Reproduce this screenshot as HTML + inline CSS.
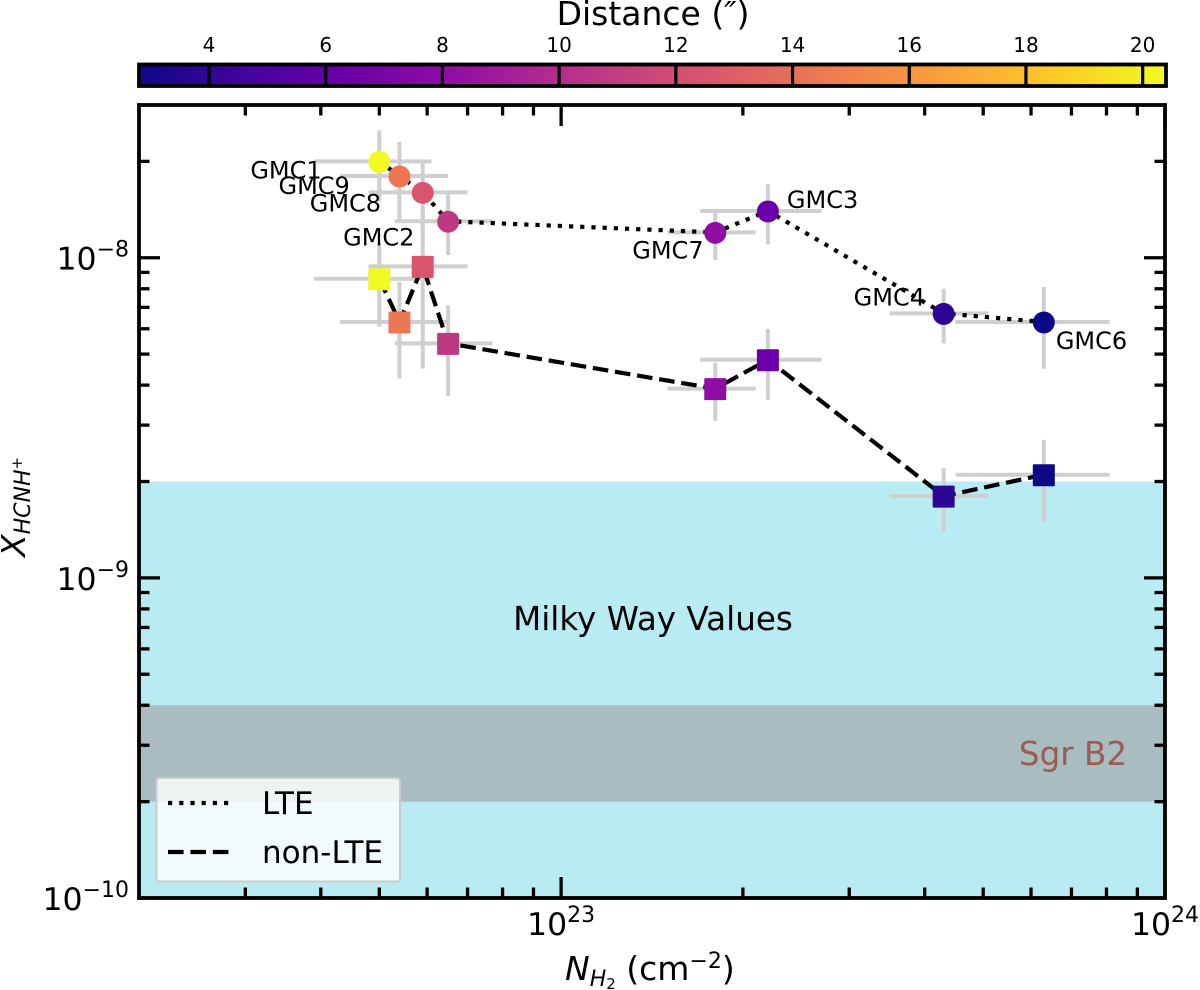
<!DOCTYPE html>
<html lang="en">
<head>
<meta charset="utf-8">
<title>HCNH+ abundance vs H2 column density</title>
<style>
html,body{margin:0;padding:0;background:#fff;width:1200px;height:990px;overflow:hidden}
svg{display:block}
text{font-family:"DejaVu Sans","Liberation Sans",sans-serif;fill:#000}
.it{font-style:italic}
</style>
</head>
<body>
<svg id="chart" xmlns="http://www.w3.org/2000/svg" width="1200" height="990" viewBox="0 0 1200 990">
  <defs>
    <linearGradient id="plasma-gradient" x1="0" x2="1" y1="0" y2="0"></linearGradient>
    <clipPath id="plot-clip"><rect x="139" y="105" width="1026" height="793"></rect></clipPath>
  </defs>
  <g id="bands" clip-path="url(#plot-clip)"></g>
  <g id="errors" clip-path="url(#plot-clip)"></g>
  <g id="labels"></g>
  <g id="lines" clip-path="url(#plot-clip)"></g>
  <g id="markers"></g>
  <text x="653" y="630" font-size="32.6" text-anchor="middle">Milky Way Values</text>
  <text x="1073" y="765" font-size="32.6" text-anchor="middle" style="fill:#9c5a52">Sgr B2</text>
  <g id="ticks"></g>
  <g>
    <rect x="156.5" y="778" width="243.5" height="103.5" rx="3" fill="#fff" fill-opacity="0.8" stroke="#cccccc" stroke-width="2"></rect>
    <line x1="168" y1="803" x2="235" y2="803" stroke="#000" stroke-width="4.2" stroke-dasharray="4.2 7"></line>
    <text x="262" y="814" font-size="31">LTE</text>
    <line x1="168" y1="852" x2="235" y2="852" stroke="#000" stroke-width="4.2" stroke-dasharray="15.6 6.8"></line>
    <text x="262" y="863" font-size="31">non-LTE</text>
  </g>
  <rect x="139" y="105" width="1026" height="793" fill="none" stroke="#000" stroke-width="3.8"></rect>
  <text x="565" y="980" font-size="33"><tspan class="it">N</tspan><tspan class="it" font-size="22" dy="6">H</tspan><tspan font-size="15" dy="3">2</tspan><tspan dy="-9"> (cm</tspan><tspan font-size="22" dy="-12">−2</tspan><tspan dy="12">)</tspan></text>
  <text transform="translate(25,557) rotate(-90)" font-size="33"><tspan class="it">X</tspan><tspan class="it" font-size="22" dy="5">HCNH</tspan><tspan font-size="15" dy="-8">+</tspan></text>
  <g>
    <rect x="139" y="64.5" width="1027" height="21.5" fill="url(#plasma-gradient)"></rect>
    <g id="cbar-ticks"></g>
    <rect x="139" y="64.5" width="1027" height="21.5" fill="none" stroke="#000" stroke-width="3.8"></rect>
  </g>
  <text x="653" y="25" font-size="33" text-anchor="middle">Distance (<tspan class="it">″</tspan>)</text>
</svg>
<script>
const cloudNames = ['GMC1', 'GMC9', 'GMC8', 'GMC2', 'GMC7', 'GMC3', 'GMC4', 'GMC6'];
const columnDensity = [5.0e22, 5.4e22, 5.9e22, 6.5e22, 1.8e23, 2.2e23, 4.3e23, 6.3e23];
const columnDensityErr = [1.1e22, 1.1e22, 1.1e22, 1.2e22, 0.3e23, 0.5e23, 0.8e23, 1.8e23];
const abundanceLTE = [2.0e-8, 1.8e-8, 1.6e-8, 1.3e-8, 1.2e-8, 1.4e-8, 6.7e-9, 6.3e-9];
const abundanceLTEErr = [5.0e-9, 5.0e-9, 3.8e-9, 2.8e-9, 2.15e-9, 3.0e-9, 1.3e-9, 1.8e-9];
const abundanceNonLTE = [8.6e-9, 6.3e-9, 9.4e-9, 5.4e-9, 3.9e-9, 4.8e-9, 1.8e-9, 2.1e-9];
const abundanceNonLTEErr = [2.5e-9, 2.1e-9, 4.9e-9, 1.7e-9, 0.8e-9, 1.2e-9, 0.4e-9, 0.6e-9];
const distances = [20.4, 14.4, 12.5, 10.7, 8.1, 6.3, 3.9, 2.8];
const colorbarTicks = [4, 6, 8, 10, 12, 14, 16, 18, 20];
const xMajorTicks = [1e23, 1e24];
const xTickExponents = ['23', '24'];
const yMajorTicks = [1e-10, 1e-9, 1e-8];
const yTickExponents = ['−10', '−9', '−8'];
const milkyWayBand = [1e-10, 2e-9];
const sgrB2Band = [2e-10, 4e-10];
const plasmaStops = ['#0d0887', '#41049d', '#6a00a8', '#8f0da4', '#b12a90', '#cc4778', '#e16462', '#f2844b', '#fca636', '#fcce25', '#f0f921'];

const SVGNS = 'http://www.w3.org/2000/svg';
const plot = { left: 139, right: 1165, top: 105, bottom: 898 };
const xDomain = [2e22, 1e24];
const yDomain = [1e-10, 3e-8];
const cbarDomain = [2.8, 20.4];

function sx(v) {
  return plot.left + (Math.log10(v) - Math.log10(xDomain[0])) / (Math.log10(xDomain[1]) - Math.log10(xDomain[0])) * (plot.right - plot.left);
}
function sy(v) {
  return plot.bottom - (Math.log10(v) - Math.log10(yDomain[0])) / (Math.log10(yDomain[1]) - Math.log10(yDomain[0])) * (plot.bottom - plot.top);
}
function scbar(v) {
  return 139 + (v - cbarDomain[0]) / (cbarDomain[1] - cbarDomain[0]) * 1027;
}
function hexToRgb(h) {
  return [parseInt(h.slice(1, 3), 16), parseInt(h.slice(3, 5), 16), parseInt(h.slice(5, 7), 16)];
}
function plasma(t) {
  const c = Math.max(0, Math.min(1, t)) * (plasmaStops.length - 1);
  const i = Math.min(Math.floor(c), plasmaStops.length - 2);
  const a = hexToRgb(plasmaStops[i]);
  const b = hexToRgb(plasmaStops[i + 1]);
  const f = c - i;
  return 'rgb(' + a.map((v, k) => Math.round(v + (b[k] - v) * f)).join(',') + ')';
}
function colorFor(d) {
  return plasma((d - cbarDomain[0]) / (cbarDomain[1] - cbarDomain[0]));
}
function mk(parent, tag, attrs) {
  const el = document.createElementNS(SVGNS, tag);
  for (const k in attrs) el.setAttribute(k, attrs[k]);
  parent.appendChild(el);
  return el;
}

const g = id => document.getElementById(id);

/* colorbar gradient */
plasmaStops.forEach((c, i) => {
  mk(g('plasma-gradient'), 'stop', { offset: (i / (plasmaStops.length - 1) * 100) + '%', 'stop-color': c });
});

/* colorbar ticks */
colorbarTicks.forEach(v => {
  const x = scbar(v);
  const edge = mk(g('cbar-ticks'), 'line', { x1: x, x2: x, y1: 64.5, y2: 86, stroke: '#000', 'stroke-width': 3.2 });
  
  
  const t = mk(g('cbar-ticks'), 'text', { x: x, y: 52, 'font-size': 20, 'text-anchor': 'middle' });
  t.textContent = String(v);
  
  
});

/* bands */
const mwRect = mk(g('bands'), 'rect', { x: plot.left, width: plot.right - plot.left, y: sy(milkyWayBand[1]), height: sy(milkyWayBand[0]) - sy(milkyWayBand[1]), fill: '#b9ebf2' });


const sgrRect = mk(g('bands'), 'rect', { x: plot.left, width: plot.right - plot.left, y: sy(sgrB2Band[1]), height: sy(sgrB2Band[0]) - sy(sgrB2Band[1]), fill: '#a9bcbf' });



/* error bars */
function drawErrors(values, errors, seriesName) {
  values.forEach((v, i) => {
    const cx = sx(columnDensity[i]);
    const cy = sy(v);
    const h = mk(g('errors'), 'line', { x1: sx(columnDensity[i] - columnDensityErr[i]), x2: sx(columnDensity[i] + columnDensityErr[i]), y1: cy, y2: cy, stroke: '#cfcfcf', 'stroke-width': 4 });
    
    
    const w = mk(g('errors'), 'line', { x1: cx, x2: cx, y1: sy(v - errors[i]), y2: sy(v + errors[i]), stroke: '#cfcfcf', 'stroke-width': 4 });
    
    
  });
}
drawErrors(abundanceLTE, abundanceLTEErr, 'lte');
drawErrors(abundanceNonLTE, abundanceNonLTEErr, 'non-lte');

/* cloud labels, offset from their LTE points */
function drawLabels() {
  const labelOffset = [[-129, 17], [-121, 18], [-113, 19], [-105, 24], [-83, 26], [19, -3], [-90, -8], [12, 27]];
  cloudNames.forEach((name, i) => {
    const t = mk(g('labels'), 'text', { x: sx(columnDensity[i]) + labelOffset[i][0], y: sy(abundanceLTE[i]) + labelOffset[i][1], 'font-size': 24 });
    t.textContent = name;
    
    
  });
}
drawLabels();

/* series lines */
function pathPoints(values) {
  return values.map((v, i) => sx(columnDensity[i]).toFixed(2) + ',' + sy(v).toFixed(2)).join(' ');
}
const lteLine = mk(g('lines'), 'polyline', { points: pathPoints(abundanceLTE), fill: 'none', stroke: '#000', 'stroke-width': 4.2, 'stroke-dasharray': '4.2 7' });


const nonLteLine = mk(g('lines'), 'polyline', { points: pathPoints(abundanceNonLTE), fill: 'none', stroke: '#000', 'stroke-width': 4.2, 'stroke-dasharray': '15.6 6.8' });



/* markers */
columnDensity.forEach((x, i) => {
  const c = colorFor(distances[i]);
  const circle = mk(g('markers'), 'circle', { cx: sx(x), cy: sy(abundanceLTE[i]) + 0.5, r: 11, fill: c });
  
  
  const square = mk(g('markers'), 'rect', { x: sx(x) - 11, y: sy(abundanceNonLTE[i]) - 10.5, width: 22, height: 22, rx: 1, fill: c });
  
  
});

/* axis ticks */
function tickLine(x1, y1, x2, y2, name) {
  const l = mk(g('ticks'), 'line', { x1: x1, y1: y1, x2: x2, y2: y2, stroke: '#000', 'stroke-width': 3.3 });
  
  
}
function powerLabel(x, y, exponent, anchor, name) {
  const t = mk(g('ticks'), 'text', { x: x, y: y, 'font-size': 31.5, 'text-anchor': anchor });
  const a = mk(t, 'tspan', {});
  a.textContent = '10';
  const b = mk(t, 'tspan', { 'font-size': 22, dy: -13 });
  b.textContent = exponent;
  
  
}
for (let e = 22; e <= 23; e++) {
  for (let m = 1; m <= 9; m++) {
    const v = m * Math.pow(10, e);
    if (m === 1 || v <= xDomain[0]) continue;
    const x = sx(v);
    tickLine(x, plot.bottom, x, plot.bottom - 10.5, 'x-minor-tick-bottom');
    tickLine(x, plot.top, x, plot.top + 10.5, 'x-minor-tick-top');
  }
}
xMajorTicks.forEach((v, i) => {
  const x = sx(v);
  tickLine(x, plot.bottom, x, plot.bottom - 21, 'x-major-tick-bottom');
  tickLine(x, plot.top, x, plot.top + 21, 'x-major-tick-top');
  powerLabel(x, 935, xTickExponents[i], 'middle', 'x-tick-label-' + xTickExponents[i]);
});
for (let e = -10; e <= -8; e++) {
  for (let m = 2; m <= 9; m++) {
    const v = m * Math.pow(10, e);
    if (v >= yDomain[1]) continue;
    const y = sy(v);
    tickLine(plot.left, y, plot.left + 10.5, y, 'y-minor-tick-left');
    tickLine(plot.right, y, plot.right - 10.5, y, 'y-minor-tick-right');
  }
}
yMajorTicks.forEach((v, i) => {
  const y = sy(v);
  tickLine(plot.left, y, plot.left + 21, y, 'y-major-tick-left');
  tickLine(plot.right, y, plot.right - 21, y, 'y-major-tick-right');
  powerLabel(129, y + 12, yTickExponents[i], 'end', 'y-tick-label-' + yTickExponents[i]);
});
</script>
</body>
</html>
